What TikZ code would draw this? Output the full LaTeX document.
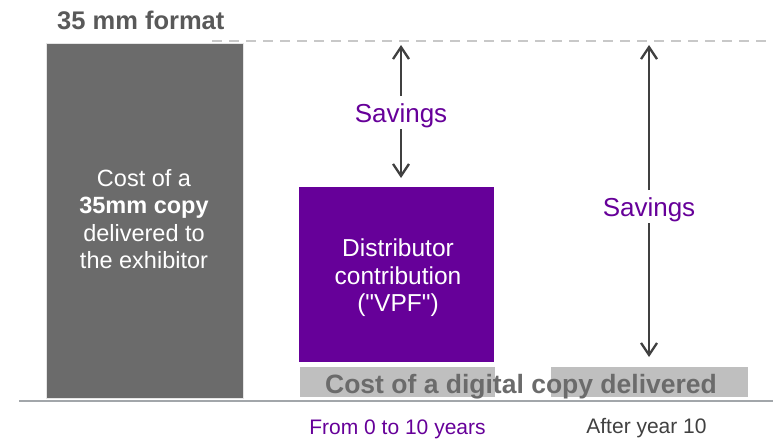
\documentclass[tikz,border=0pt]{standalone}
\usepackage{fontspec}
\setmainfont{Liberation Sans}[Ligatures=TeXOff]
\usetikzlibrary{arrows.meta}
\definecolor{barGray}{HTML}{6B6B6B}
\definecolor{digiGray}{HTML}{BFBFBF}
\definecolor{vpfPurple}{HTML}{660099}
\definecolor{axisGray}{HTML}{A2A6AA}
\definecolor{dashGray}{HTML}{C8C8C8}
\definecolor{arrowGray}{HTML}{404040}
\definecolor{titleGray}{HTML}{595959}
\tikzset{
  barlabel/.style={text=white, align=center, inner sep=0pt,
    font=\fontsize{23.5}{27.5}\selectfont},
  saving/.style={text=vpfPurple, font=\fontsize{26}{28}\selectfont,
    text height=18.6pt, text depth=0pt, inner xsep=0pt, inner ysep=7pt},
  savearrow/.style={draw=arrowGray, line width=2.3pt,
    -{Straight Barb[length=12pt,width=16pt,line width=2.3pt]}},
  yearlabel/.style={font=\fontsize{21}{24}\selectfont, inner sep=0pt, anchor=base}
}
\begin{document}
\begin{tikzpicture}[x=1pt,y=-1pt]
  \useasboundingbox (0,0) rectangle (773,440);

  % reference level of the 35 mm copy
  \draw[dashGray, line width=2.5pt, dash pattern=on 10pt off 7pt] (212,41) -- (773,41);
  \node[anchor=base west, inner sep=0pt, text=titleGray,
        font=\fontsize{25.5}{28}\selectfont\bfseries] (title) at (57,29) {35 mm format};

  % 35 mm copy bar
  \fill[barGray] (46,43) rectangle (243,398);
  \draw[white!80!gray, line width=0.6pt] (46,43) rectangle (243,398);
  \node[barlabel] (copy35) at (144,219)
    {Cost of a\\\textbf{35mm copy}\\delivered to\\the exhibitor};

  % distributor contribution
  \fill[vpfPurple] (299,187) rectangle (494,362);
  \node[barlabel, font=\fontsize{24.5}{27.5}\selectfont] (vpf) at (398,278)
    {Distributor\\contribution\\("VPF")};

  % digital copy cost
  \fill[digiGray] (300,367) rectangle (495,397);
  \fill[digiGray] (551,367) rectangle (748,397);
  \node[anchor=base, inner sep=0pt, text=barGray,
        font=\fontsize{26.5}{28}\selectfont\bfseries] (digital) at (521,393)
    {Cost of a digital copy delivered};

  % axis
  \draw[axisGray, line width=2pt] (19,401) -- (773,401);

  % savings arrows
  \coordinate (top1) at (401,45);
  \coordinate (bot1) at (401,178);
  \coordinate (top2) at (649,45);
  \coordinate (bot2) at (649,357);
  \node[saving, anchor=base] (sav1) at (401,122) {Savings};
  \node[saving, anchor=base] (sav2) at (649,216) {Savings};
  \draw[savearrow] (sav1.north) -- (top1);
  \draw[savearrow] (sav1.south) -- (bot1);
  \draw[savearrow] (sav2.north) -- (top2);
  \draw[savearrow] (sav2.south) -- (bot2);

  % periods
  \node[yearlabel, text=vpfPurple] (period1) at (397.5,434) {From 0 to 10 years};
  \node[yearlabel, text=arrowGray] (period2) at (646.5,433) {After year 10};
\end{tikzpicture}
\end{document}
